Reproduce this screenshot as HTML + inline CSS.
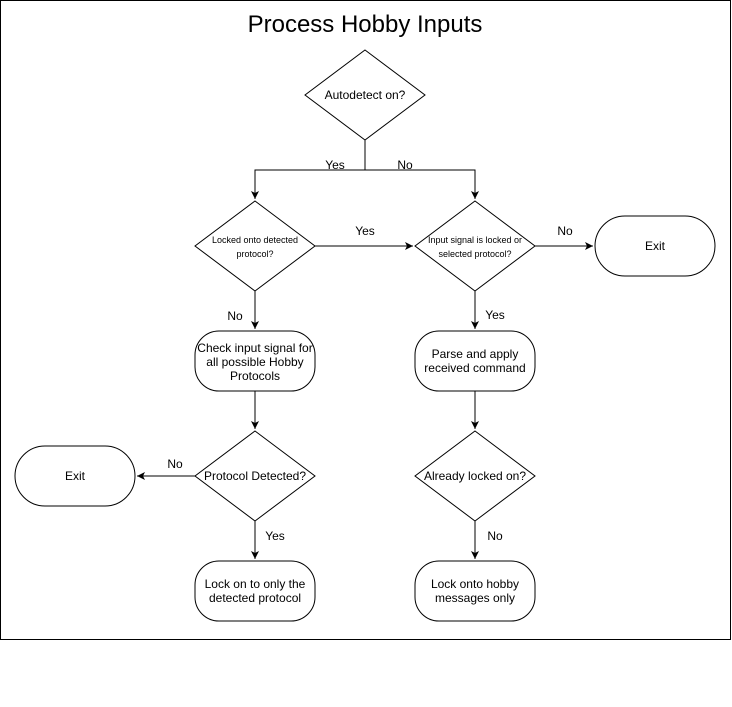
<!DOCTYPE html>
<html><head><meta charset="utf-8"><style>
html,body{margin:0;padding:0;background:#fff;}
svg{display:block;font-family:"Liberation Sans",Helvetica,sans-serif;}
</style></head><body>
<svg width="732" height="707" viewBox="0 0 732 707" xmlns="http://www.w3.org/2000/svg">
<defs><marker id="a" markerWidth="10" markerHeight="10" refX="8" refY="4" orient="auto" markerUnits="userSpaceOnUse"><path d="M0,0 L8,4 L0,8 L2,4 Z" fill="#000"/></marker></defs>
<rect x="0.5" y="0.5" width="730" height="639" fill="#fff" stroke="#000"/>
<text x="365" y="32" font-size="24" text-anchor="middle">Process Hobby Inputs</text>
<g fill="#fff" stroke="#000" stroke-width="1">
<polygon points="365,50 425,95 365,140 305,95"/>
<polygon points="255,201 315,246 255,291 195,246"/>
<polygon points="475,201 535,246 475,291 415,246"/>
<polygon points="255,431 315,476 255,521 195,476"/>
<polygon points="475,431 535,476 475,521 415,476"/>
<rect x="595" y="216" width="120" height="60" rx="30"/>
<rect x="15" y="446" width="120" height="60" rx="30"/>
<rect x="195" y="331" width="120" height="60" rx="24"/>
<rect x="415" y="331" width="120" height="60" rx="24"/>
<rect x="195" y="561" width="120" height="60" rx="24"/>
<rect x="415" y="561" width="120" height="60" rx="24"/>
</g>
<g stroke="#000" fill="none" marker-end="url(#a)">
<path d="M365,140 V170 H255 V199"/>
<path d="M365,170 H475 V199"/>
<path d="M315,246 H413"/>
<path d="M535,246 H593"/>
<path d="M255,291 V329"/>
<path d="M475,291 V329"/>
<path d="M255,391 V429"/>
<path d="M475,391 V429"/>
<path d="M195,476 H137"/>
<path d="M255,521 V559"/>
<path d="M475,521 V559"/>
</g>
<g font-size="12" text-anchor="middle">
<text x="365" y="99">Autodetect on?</text>
<text x="335" y="169">Yes</text>
<text x="405" y="169">No</text>
<text x="365" y="235">Yes</text>
<text x="565" y="235">No</text>
<text x="655" y="250">Exit</text>
<text x="235" y="320">No</text>
<text x="495" y="319">Yes</text>
<text x="255" y="352">Check input signal for</text>
<text x="255" y="366">all possible Hobby</text>
<text x="255" y="380">Protocols</text>
<text x="475" y="358">Parse and apply</text>
<text x="475" y="372">received command</text>
<text x="255" y="480">Protocol Detected?</text>
<text x="475" y="480">Already locked on?</text>
<text x="175" y="468">No</text>
<text x="75" y="480">Exit</text>
<text x="275" y="540">Yes</text>
<text x="495" y="540">No</text>
<text x="255" y="588">Lock on to only the</text>
<text x="255" y="602">detected protocol</text>
<text x="475" y="588">Lock onto hobby</text>
<text x="475" y="602">messages only</text>
</g>
<g font-size="9" text-anchor="middle">
<text x="255" y="243">Locked onto detected</text>
<text x="255" y="257">protocol?</text>
<text x="475" y="243">Input signal is locked or</text>
<text x="475" y="257">selected protocol?</text>
</g>
</svg>
</body></html>
